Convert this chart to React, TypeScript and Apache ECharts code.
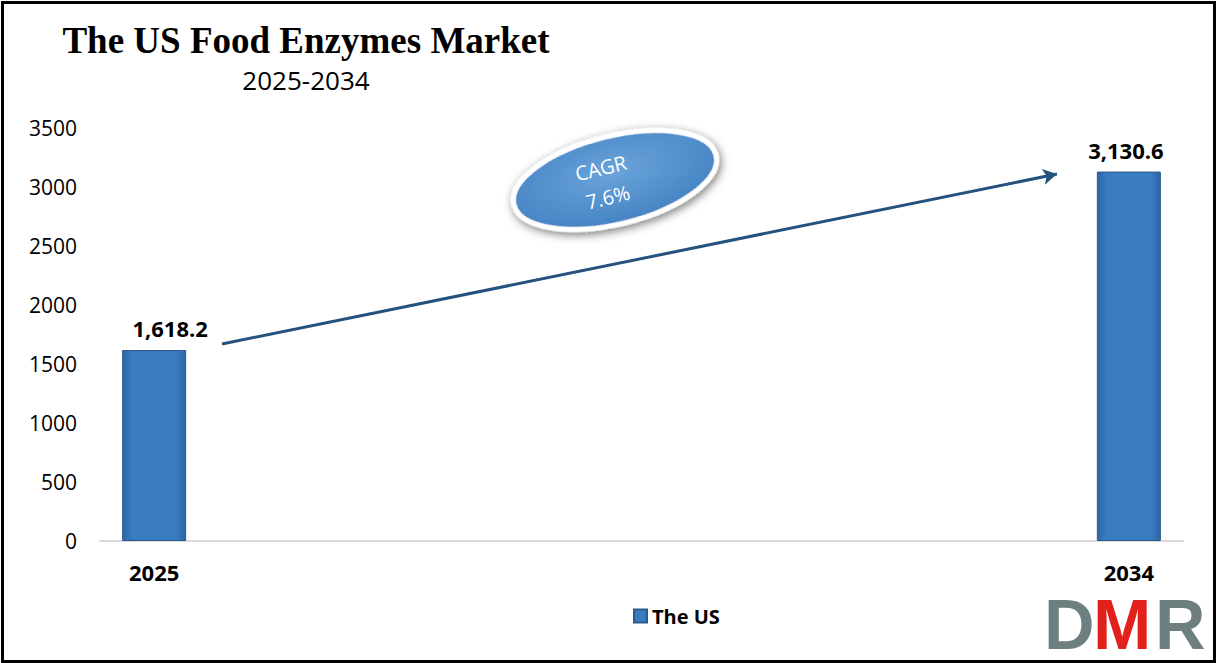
import React, { useEffect, useRef } from "react";
import * as echarts from "echarts";

const categories = ["2025", "2026", "2027", "2028", "2029", "2030", "2031", "2032", "2033", "2034"];
const usValues: (number | null)[] = [1618.2, null, null, null, null, null, null, null, null, 3130.6];
const shownYears = ["2025", "2034"];
const seriesName = "The US";
const titleText = "The US Food Enzymes Market";
const subtitleText = "2025-2034";
const cagrLabel = "CAGR";
const cagrValue = "7.6%";

const SANS = "'Open Sans', 'Noto Sans', sans-serif";

export default function App() {
  const ref = useRef<HTMLDivElement>(null);
  useEffect(() => {
    if (!ref.current) return;
    const chart = echarts.init(ref.current, null, { renderer: "svg" });
    const barColor = new echarts.graphic.LinearGradient(0, 0, 1, 0, [
      { offset: 0, color: "#2D66A3" },
      { offset: 0.15, color: "#3A7CC2" },
      { offset: 0.85, color: "#3A7CC2" },
      { offset: 1, color: "#2D66A3" },
    ]);
    const labelOffsets: Record<string, number[]> = { "2025": [16, 0], "2034": [-3, 0] };
    const logoFont = `bold 70px 'Liberation Sans', Arial, sans-serif`;
    chart.setOption({
      animation: false,
      backgroundColor: "#ffffff",
      title: [
        {
          text: titleText,
          left: 301,
          top: 17,
          textAlign: "center",
          textStyle: { fontFamily: "'Liberation Serif', 'Times New Roman', serif", fontWeight: "bold", fontSize: 37, color: "#000" },
        },
        {
          text: subtitleText,
          left: 301,
          top: 62,
          textAlign: "center",
          textStyle: { fontFamily: SANS, fontWeight: "normal", fontSize: 26, color: "#000" },
        },
      ],
      legend: {
        data: [seriesName],
        left: 628,
        top: 601,
        icon: "rect",
        itemWidth: 13,
        itemHeight: 13,
        itemGap: 6,
        textStyle: { fontFamily: SANS, fontWeight: "bold", fontSize: 20, color: "#000" },
      },
      grid: { left: 100, right: 33, top: 128, bottom: 122, containLabel: false },
      xAxis: {
        type: "category",
        data: categories,
        axisLine: { lineStyle: { color: "#d9d9d9", width: 2 } },
        axisTick: { show: false },
        axisLabel: {
          interval: 0,
          margin: 20,
          fontFamily: SANS,
          fontWeight: "bold",
          fontSize: 22,
          color: "#000",
          formatter: (v: string) => (shownYears.includes(v) ? v : ""),
        },
      },
      yAxis: {
        type: "value",
        min: 0,
        max: 3500,
        interval: 500,
        splitLine: { show: false },
        axisLine: { show: false },
        axisTick: { show: false },
        axisLabel: {
          margin: 23,
          fontFamily: SANS,
          fontSize: 21,
          color: "#000",
          formatter: (v: number) => String(v),
        },
      },
      series: [
        {
          name: seriesName,
          type: "bar",
          barWidth: 64,
          data: usValues.map((v, i) =>
            v == null
              ? null
              : { value: v, label: { offset: labelOffsets[categories[i]] || [0, 0] } }
          ),
          itemStyle: { color: barColor, borderColor: "#2A5A8A", borderWidth: 1 },
          label: {
            show: true,
            position: "top",
            distance: 11,
            fontFamily: SANS,
            fontWeight: "bold",
            fontSize: 22,
            color: "#000",
            formatter: (p: any) =>
              Number(p.value).toLocaleString("en-US", { minimumFractionDigits: 1, maximumFractionDigits: 1 }),
          },
          markLine: {
            silent: true,
            symbol: ["none", "arrow"],
            symbolSize: [12, 14],
            label: { show: false },
            lineStyle: { color: "#24527E", width: 3, type: "solid" },
            data: [[{ x: 222, y: 344 }, { x: 1057, y: 174 }]],
          },
        },
      ],
      graphic: [
        {
          type: "rect",
          left: 0,
          top: 0,
          shape: { x: 1.5, y: 1.5, width: 1212, height: 659 },
          style: { fill: "none", stroke: "#000", lineWidth: 3 },
          silent: true,
        },
        {
          type: "group",
          x: 615,
          y: 180,
          rotation: 0.24,
          children: [
            {
              type: "ellipse",
              shape: { cx: 0, cy: 0, rx: 104, ry: 44 },
              style: {
                fill: new echarts.graphic.RadialGradient(0.5, 0.4, 0.7, [
                  { offset: 0, color: "#6AA4DB" },
                  { offset: 1, color: "#3E7DBF" },
                ]),
                stroke: "#ffffff",
                lineWidth: 5,
                shadowBlur: 10,
                shadowColor: "rgba(0,0,0,0.55)",
                shadowOffsetX: 1,
                shadowOffsetY: 3,
              },
            },
            {
              type: "text",
              x: -11,
              y: -15,
              style: { text: cagrLabel, fill: "#fff", font: `20px ${SANS}`, align: "center", verticalAlign: "middle" },
            },
            {
              type: "text",
              x: -11,
              y: 15,
              style: { text: cagrValue, fill: "#fff", font: `20px ${SANS}`, align: "center", verticalAlign: "middle" },
            },
          ],
        },
        {
          type: "text",
          x: 1044,
          y: 625,
          style: { text: "D", fill: "#6E7F80", font: logoFont, verticalAlign: "middle" },
        },
        {
          type: "text",
          x: 1093,
          y: 625,
          style: { text: "M", fill: "#E3211C", font: logoFont, verticalAlign: "middle" },
        },
        {
          type: "text",
          x: 1155,
          y: 625,
          style: { text: "R", fill: "#6E7F80", font: logoFont, verticalAlign: "middle" },
        },
      ],
    });
    return () => chart.dispose();
  }, []);
  return (
    <div
      ref={ref}
      style={{ position: "absolute", left: 0, top: 0, width: 1216, height: 663 }}
    />
  );
}
